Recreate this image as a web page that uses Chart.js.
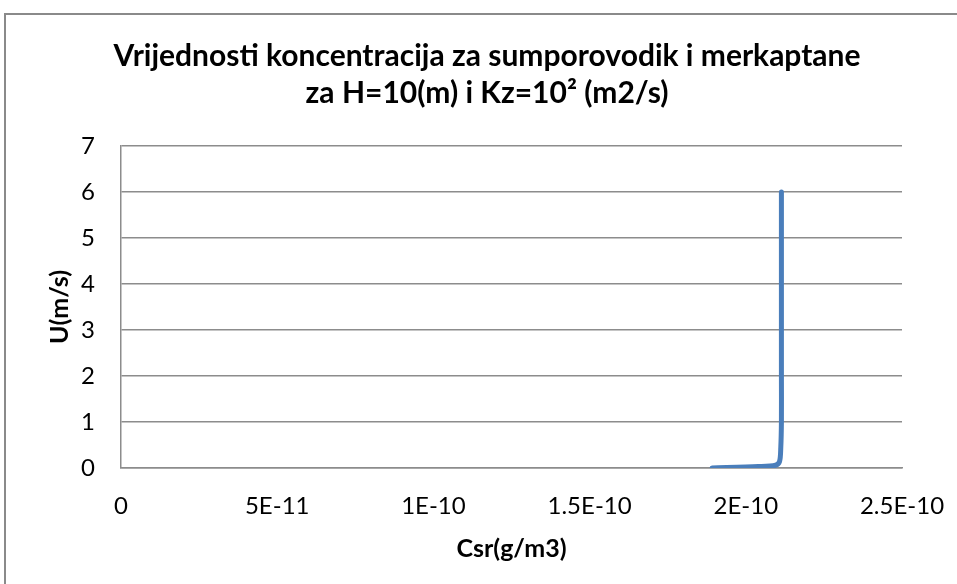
<!DOCTYPE html>
<html>
<head>
<meta charset="utf-8">
<script src="https://cdn.jsdelivr.net/npm/chart.js@4.4.1/dist/chart.umd.min.js"></script>
<style>
  html, body { margin: 0; padding: 0; background: #fff; overflow: hidden; }
  #frame {
    position: absolute; left: 4px; top: 13px;
    width: 1000px; height: 640px;
    border: 2px solid #8a8a8a;
  }
  #wrap { position: absolute; left: 0; top: 0; width: 970px; height: 584px; }
</style>
</head>
<body>
<div id="frame"></div>
<div id="wrap"><canvas id="myChart" width="970" height="584"></canvas></div>
<script>
// concentration (g/m3) against wind speed U (m/s)
const csr = [1.892e-10, 2.04e-10, 2.095e-10, 2.108e-10, 2.112e-10, 2.114e-10, 2.114e-10, 2.114e-10, 2.114e-10, 2.114e-10, 2.114e-10];
const uValues = [0, 0.03, 0.06, 0.14, 0.45, 1, 2, 3, 4, 5, 6];

const xTickValues = [0, 5e-11, 1e-10, 1.5e-10, 2e-10, 2.5e-10];
const xTickLabels = ['0', '5E-11', '1E-10', '1.5E-10', '2E-10', '2.5E-10'];
const yTickValues = [0, 1, 2, 3, 4, 5, 6, 7];

const titleLines = ['Vrijednosti koncentracija za sumporovodik i merkaptane', 'za H=10(m) i Kz=10\u00B2 (m2/s)'];
const xTitle = 'Csr(g/m3)';
const yTitle = 'U(m/s)';

const gridColor = '#8c8c8c';

var points = csr.map((x, i) => ({x: x, y: uValues[i]}));

// rotated y axis title, centred on the plot height
const yTitlePlugin = {
  id: 'yTitle',
  afterDraw(chart) {
    const ctx = chart.ctx;
    const y = chart.scales.y;
    ctx.save();
    ctx.translate(60, (y.top + y.bottom) / 2);
    ctx.rotate(-Math.PI / 2);
    ctx.font = 'bold 25px Lato';
    ctx.fillStyle = '#000';
    ctx.textAlign = 'center';
    ctx.textBaseline = 'middle';
    ctx.fillText(yTitle, 0, 0);
    ctx.restore();
  }
};

var data = {
  datasets: [
    {
      label: 'Csr',
      data: points,
      showLine: true,
      borderColor: '#4a7ebb',
      backgroundColor: '#4a7ebb',
      borderWidth: 5,
      borderCapStyle: 'round',
      pointRadius: 0,
      tension: 0.3,
      xAxisID: 'x',
      yAxisID: 'y'
    }
  ]
};

var config = {
  type: 'scatter',
  data: data,
  plugins: [yTitlePlugin],
  options: {
    responsive: false,
    animation: false,
    layout: {
      padding: {left: 14, right: 10, top: 0, bottom: 0}
    },
    plugins: {
      legend: {display: false},
      tooltip: {enabled: false},
      title: {
        display: true,
        text: titleLines,
        color: '#000',
        font: {family: 'Lato', size: 30, weight: 'bold', lineHeight: '37px'},
        padding: {top: 38, bottom: 34}
      }
    },
    scales: {
      x: {
        type: 'linear',
        min: 0,
        max: 2.5e-10,
        afterBuildTicks: scale => {
          scale.ticks = xTickValues.map(v => ({value: v}));
        },
        afterFit: scale => {
          scale.height = 116;
          // end labels may hang over the plot edges
          scale.paddingLeft = 0;
          scale.paddingRight = 0;
        },
        grid: {display: false, drawTicks: false},
        border: {display: true, color: gridColor, width: 1.5},
        ticks: {
          color: '#000',
          padding: 24,
          maxRotation: 0,
          autoSkip: false,
          font: {family: 'Lato', size: 24},
          callback: (value, index) => xTickLabels[index]
        },
        title: {
          display: true,
          text: xTitle,
          color: '#000',
          font: {family: 'Lato', size: 25, weight: 'bold'},
          padding: {top: 0, bottom: 20}
        }
      },
      y: {
        type: 'linear',
        position: 'left',
        min: 0,
        max: 7,
        afterBuildTicks: scale => {
          scale.ticks = yTickValues.map(v => ({value: v}));
        },
        afterFit: scale => { scale.width = 107; },
        grid: {color: gridColor, lineWidth: 1.5, drawTicks: false},
        border: {display: true, color: gridColor, width: 1.5},
        ticks: {
          color: '#000',
          padding: 26,
          font: {family: 'Lato', size: 24}
        },
        title: {display: false}
      },
      // empty strip on the right so the last tick label has room
      yRight: {
        type: 'linear',
        position: 'right',
        afterFit: scale => { scale.width = 58; },
        grid: {display: false, drawTicks: false},
        border: {display: false},
        ticks: {display: false}
      }
    }
  }
};

var myChart = new Chart(
  document.getElementById('myChart'),
  config
);
</script>
</body>
</html>
